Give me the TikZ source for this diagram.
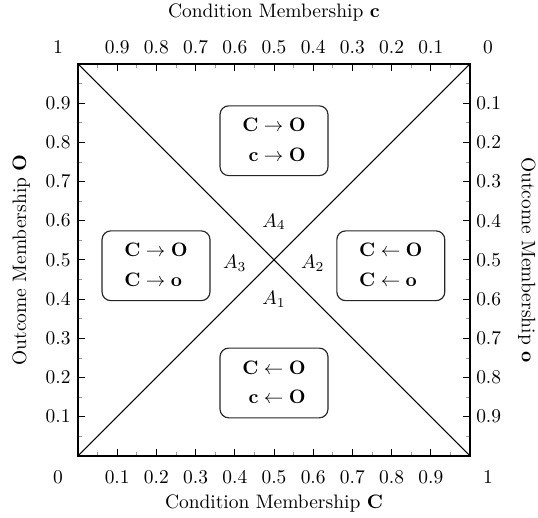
\documentclass[tikz,border=0pt]{standalone}
\begin{document}
\begin{tikzpicture}[x=7.08cm,y=7.08cm,
  majortick/.style={line width=0.5pt,black},
  minortick/.style={line width=0.4pt,black!40},
  ticklabel/.style={inner sep=0pt},
  axistitle/.style={inner sep=0pt},
  rulebox/.style={draw=black!85,line width=0.6pt,rounded corners=4.5pt,minimum width=1.95cm,minimum height=1.26cm,inner sep=0pt},
  region/.style={inner sep=0pt}]
\useasboundingbox (-0.199,-0.158) rectangle (1.1735,1.163);
% minor ticks
\foreach \t in {0.05,0.15,0.25,0.35,0.45,0.55,0.65,0.75,0.85,0.95}{
  \draw[minortick] (\t,0) -- ++(0pt,2.2pt);
  \draw[minortick] (\t,1) -- ++(0pt,-2.2pt);
  \draw[minortick] (0,\t) -- ++(2.2pt,0pt);
  \draw[minortick] (1,\t) -- ++(-2.2pt,0pt);
}
% major ticks
\foreach \t in {0.1,0.2,0.3,0.4,0.5,0.6,0.7,0.8,0.9}{
  \draw[majortick] (\t,0) -- ++(0pt,3.6pt);
  \draw[majortick] (\t,1) -- ++(0pt,-3.6pt);
  \draw[majortick] (0,\t) -- ++(3.6pt,0pt);
  \draw[majortick] (1,\t) -- ++(-3.6pt,0pt);
}
% frame and diagonals
\coordinate (sw) at (0,0);
\coordinate (se) at (1,0);
\coordinate (ne) at (1,1);
\coordinate (nw) at (0,1);
\draw[line width=0.6pt] (sw) -- (ne);
\draw[line width=0.6pt] (nw) -- (se);
\draw[line width=1.3pt] (sw) rectangle (ne);
% tick labels
\foreach \i in {1,...,9}{
  \node[ticklabel] (b\i) at (\i/10,-0.054) {0.\i};
  \node[ticklabel] (t\i) at (1-\i/10,1.043) {0.\i};
  \node[ticklabel,anchor=east] (l\i) at (-0.018,\i/10) {0.\i};
  \node[ticklabel,anchor=west] (r\i) at (1.015,1-\i/10) {0.\i};
}
\node[ticklabel] (b0) at (-0.051,-0.054) {0};
\node[ticklabel] (b10) at (1.046,-0.054) {1};
\node[ticklabel] (t10) at (-0.051,1.043) {1};
\node[ticklabel] (t0) at (1.046,1.043) {0};
% axis titles
\node[axistitle] (xtitle) at (0.5,-0.122) {Condition Membership $\mathbf{C}$};
\node[axistitle] (xtitle2) at (0.5,1.130) {Condition Membership $\mathbf{c}$};
\node[axistitle,rotate=90] (ytitle) at (-0.145,0.5) {Outcome Membership $\mathbf{O}$};
\node[axistitle,rotate=-90] (ytitle2) at (1.145,0.5) {Outcome Membership $\mathbf{o}$};
% rule boxes
\node[rulebox] (top) at (0.5,0.804) {\renewcommand\arraystretch{1.28}$\begin{array}{r@{}l}\mathbf{C}&{}\rightarrow\mathbf{O}\\ \mathbf{c}&{}\rightarrow\mathbf{O}\end{array}$};
\node[rulebox] (left) at (0.199,0.485) {\renewcommand\arraystretch{1.28}$\begin{array}{r@{}l}\mathbf{C}&{}\rightarrow\mathbf{O}\\ \mathbf{C}&{}\rightarrow\mathbf{o}\end{array}$};
\node[rulebox] (right) at (0.798,0.485) {\renewcommand\arraystretch{1.28}$\begin{array}{r@{}l}\mathbf{C}&{}\leftarrow\mathbf{O}\\ \mathbf{C}&{}\leftarrow\mathbf{o}\end{array}$};
\node[rulebox] (bottom) at (0.5,0.186) {\renewcommand\arraystretch{1.28}$\begin{array}{r@{}l}\mathbf{C}&{}\leftarrow\mathbf{O}\\ \mathbf{c}&{}\leftarrow\mathbf{O}\end{array}$};
% region labels
\node[region] (A4) at (0.5,0.597) {$A_4$};
\node[region] (A3) at (0.40,0.492) {$A_3$};
\node[region] (A2) at (0.599,0.492) {$A_2$};
\node[region] (A1) at (0.5,0.40) {$A_1$};
\end{tikzpicture}
\end{document}
